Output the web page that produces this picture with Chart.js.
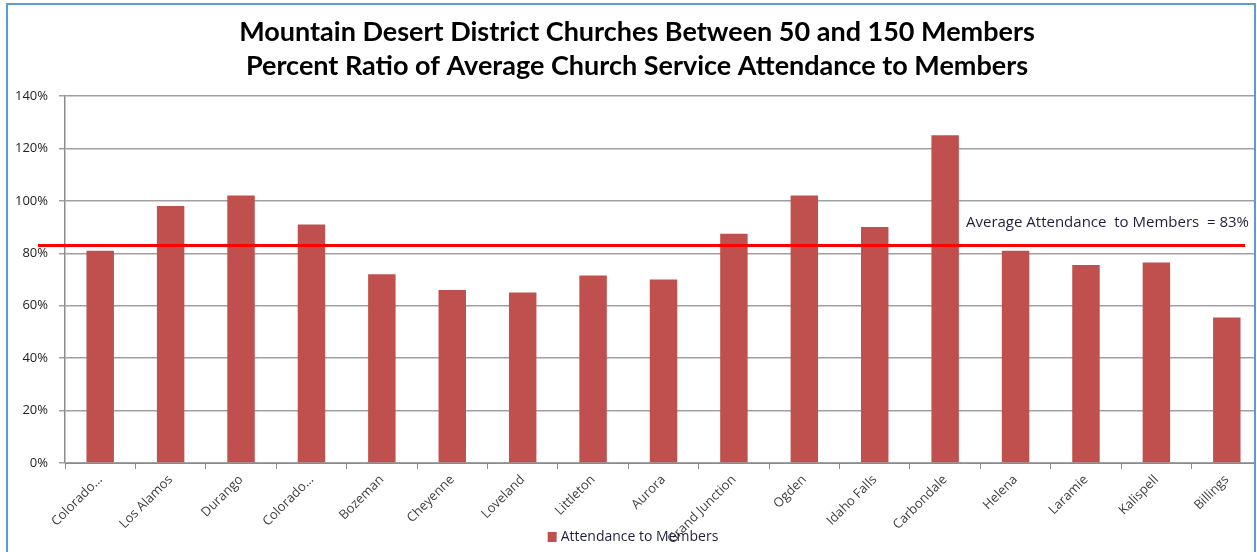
<!DOCTYPE html>
<html>
<head>
<meta charset="utf-8">
<script src="https://cdn.jsdelivr.net/npm/chart.js@4/dist/chart.umd.min.js"></script>
<style>
    html, body { margin: 0; padding: 0; background: #fff; overflow: hidden; }
    #frame {
        position: absolute; left: 6px; top: 3px; width: 1246px; height: 560px;
        border: 2px solid #5b9bd5; border-bottom: none; overflow: hidden; background: #fff;
    }
    #attendChart { position: absolute; left: -8px; top: -5px; }
</style>
</head>
<body>
<div id="frame"><canvas id="attendChart" width="1262" height="552"></canvas></div>
<script>
const churches = [
    'Colorado…', 'Los Alamos', 'Durango', 'Colorado…', 'Bozeman', 'Cheyenne',
    'Loveland', 'Littleton', 'Aurora', 'Grand Junction', 'Ogden', 'Idaho Falls',
    'Carbondale', 'Helena', 'Laramie', 'Kalispell', 'Billings'
];
// attendance as percent of members
const attendancePct = [81, 98, 102, 91, 72, 66, 65, 71.5, 70, 87.5, 102, 90, 125, 81, 75.5, 76.5, 55.5];
const averagePct = 83;
const yTicks = [0, 20, 40, 60, 80, 100, 120, 140];

const TITLE_FONT = 'Lato, "Open Sans", sans-serif';
const FONT = '"Open Sans", Lato, sans-serif';

// red reference line for the district average, with its caption
const averageLine = {
    id: 'averageLine',
    afterDatasetsDraw(chart) {
        const { ctx, chartArea, scales } = chart;
        const y = scales.y.getPixelForValue(averagePct);
        ctx.save();
        ctx.strokeStyle = '#ff0000';
        ctx.lineWidth = 3;
        ctx.beginPath();
        ctx.moveTo(chartArea.left - 27, y);
        ctx.lineTo(chartArea.right - 17, y);
        ctx.stroke();
        ctx.fillStyle = '#1f1f3a';
        ctx.font = '15px ' + FONT;
        ctx.textAlign = 'right';
        ctx.textBaseline = 'middle';
        ctx.fillText(`Average Attendance  to Members  = ${averagePct}%`, chartArea.right - 13, y - 23);
        ctx.restore();
    }
};

// legend drawn on top of the category labels
const bottomLegend = {
    id: 'bottomLegend',
    afterDraw(chart) {
        const { ctx } = chart;
        const ds = chart.data.datasets[0];
        ctx.save();
        ctx.font = '14px ' + FONT;
        const textW = ctx.measureText(ds.label).width;
        const box = 10, gap = 3;
        const x0 = chart.width / 2 + 2 - (box + gap + textW) / 2;
        const yc = chart.height - 15;
        ctx.fillStyle = ds.backgroundColor;
        ctx.fillRect(x0, yc - box / 2, box - 1, box);
        ctx.fillStyle = '#1f1f3a';
        ctx.textBaseline = 'middle';
        ctx.fillText(ds.label, x0 + box + gap, yc);
        ctx.restore();
    }
};

new Chart(document.getElementById('attendChart'), {
    type: 'bar',
    data: {
        labels: churches,
        datasets: [{
            label: 'Attendance to Members',
            data: attendancePct,
            backgroundColor: '#c0504d',
            borderWidth: 0,
            categoryPercentage: 1,
            barPercentage: 0.39
        }]
    },
    options: {
        responsive: false,
        animation: false,
        layout: { padding: { left: 12, right: 0, top: 0, bottom: 0 } },
        plugins: {
            title: {
                display: true,
                text: [
                    'Mountain Desert District Churches Between 50 and 150 Members',
                    'Percent Ratio of Average Church Service Attendance to Members'
                ],
                color: '#000',
                font: { family: TITLE_FONT, size: 27, weight: 'bold', lineHeight: '34px' },
                padding: { top: 15, bottom: 13 }
            },
            legend: { display: false },
            tooltip: { enabled: false }
        },
        scales: {
            x: {
                afterFit(scale) { scale.height = 89; },
                grid: { drawOnChartArea: false, drawTicks: true, tickLength: 6, color: '#8c8c8c' },
                border: { display: true, color: '#8c8c8c', width: 1 },
                ticks: {
                    minRotation: 45, maxRotation: 45, autoSkip: false, padding: 3,
                    color: '#404040', font: { family: FONT, size: 13 }
                }
            },
            y: {
                min: 0, max: 140,
                afterFit(scale) { scale.width = 53; },
                afterBuildTicks(scale) { scale.ticks = yTicks.map(v => ({ value: v })); },
                grid: { color: '#a0a0a0', lineWidth: 1.5, drawTicks: true, tickLength: 6 },
                border: { display: true, color: '#8c8c8c', width: 1.5 },
                ticks: {
                    padding: 11, color: '#222',
                    font: { family: FONT, size: 13 },
                    callback: v => v + '%'
                }
            }
        }
    },
    plugins: [averageLine, bottomLegend]
});
</script>
</body>
</html>
